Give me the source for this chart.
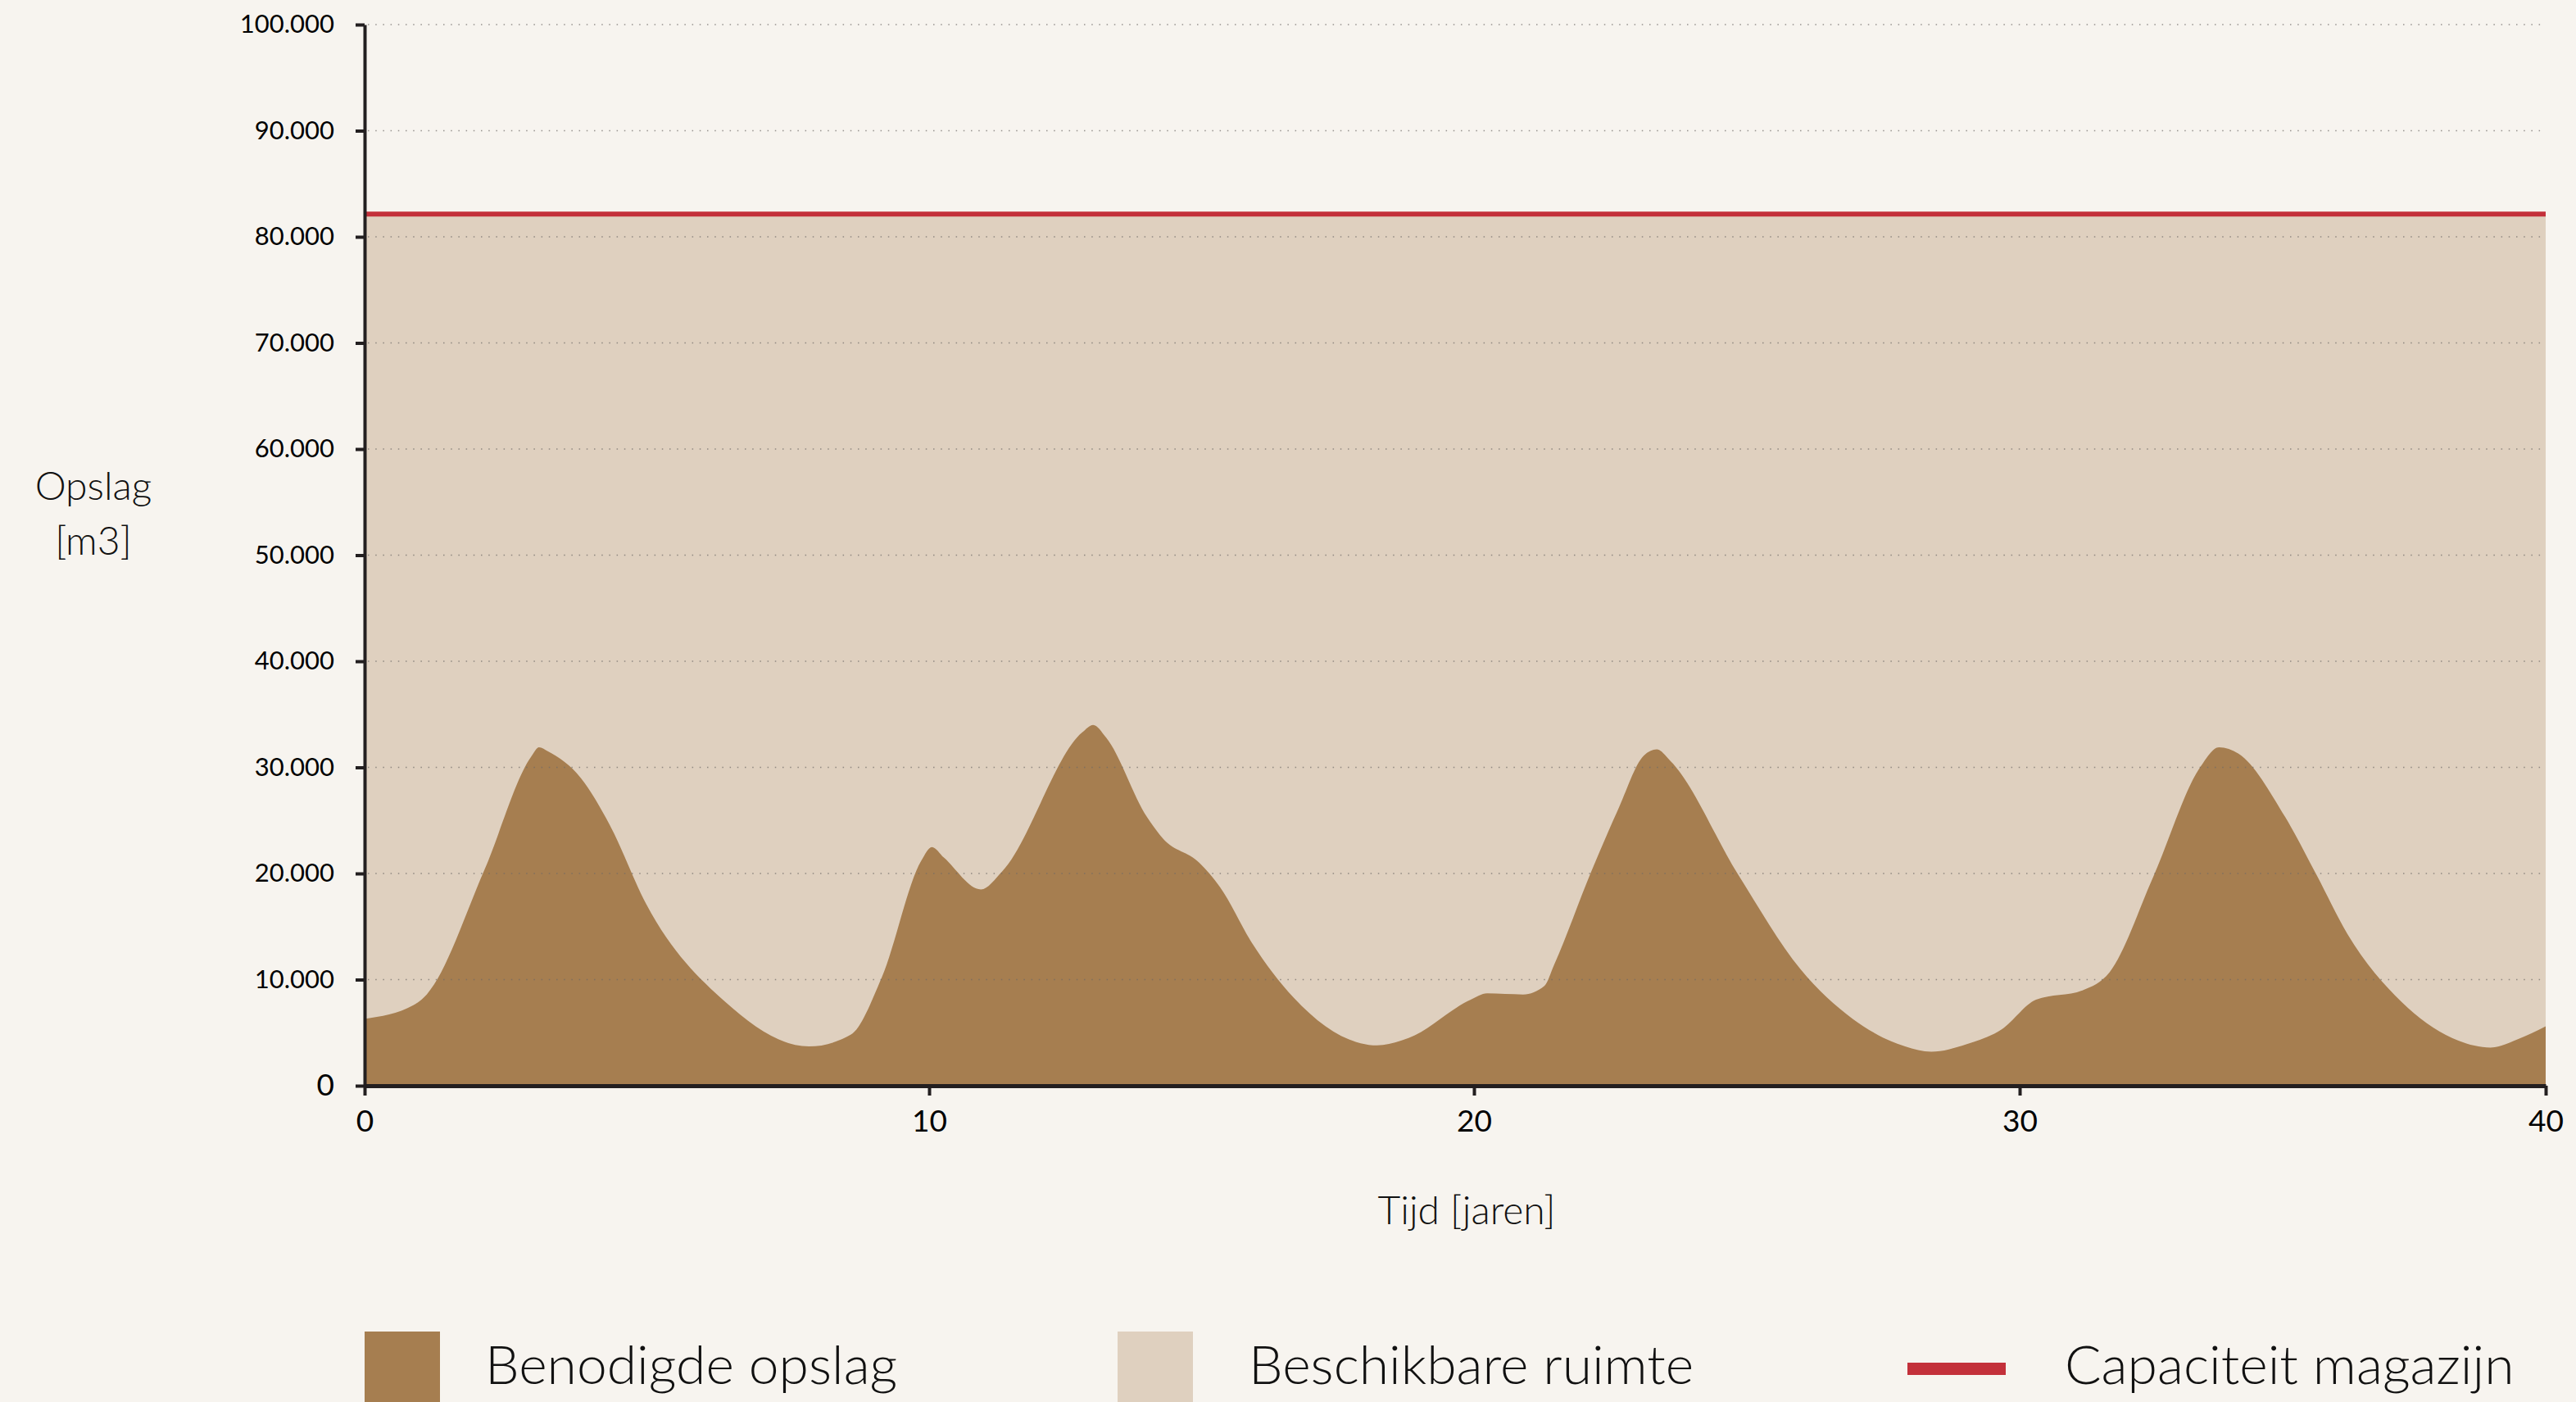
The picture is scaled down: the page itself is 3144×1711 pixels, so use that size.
<!DOCTYPE html>
<html>
<head>
<meta charset="utf-8">
<script src="https://cdn.jsdelivr.net/npm/d3@7"></script>
<style>
  html, body { margin: 0; padding: 0; background: #f7f4ef; }
  svg { display: block; font-family: "Lato", "Noto Sans", sans-serif; }
</style>
</head>
<body>
<script>
const w = 3144;
const h = 1711;

// time in years and required storage (m3)
const years = [0, 0.87, 1.1, 2.12, 2.95, 3.09, 3.25, 3.83, 4.34, 4.99, 6.39, 7.87, 8.61, 9.16, 9.86, 10.05, 10.27,
  10.95, 11.34, 12.81, 13.01, 13.25, 14.0, 14.29, 14.96, 15.34, 15.92, 16.69, 17.92, 18.22, 18.8, 19.94, 20.24,
  20.9, 21.29, 21.47, 22.15, 22.63, 23.11, 23.35, 23.6, 24.84, 25.98, 26.94, 27.9, 28.38, 29.02, 29.67, 30.31,
  31.2, 31.71, 32.54, 33.43, 33.79, 34.16, 35.05, 35.64, 36.23, 37.26, 38.22, 38.95, 39.48, 40];
const storage = [6300, 7600, 8600, 20300, 31000, 31900, 31500, 29000, 24600, 17100, 7900, 3700, 4800, 10200, 21200, 22500, 21500,
  18500, 20200, 33300, 34000, 32800, 25300, 23300, 21000, 18700, 13500, 8300, 4000, 3800, 4500, 8100, 8700,
  8600, 9400, 11400, 20200, 25900, 31100, 31700, 30600, 19900, 11000, 6300, 3700, 3200, 3900, 5300, 8100,
  9000, 10700, 19700, 30000, 31900, 31300, 25300, 19900, 14300, 7900, 4500, 3600, 4400, 5600];
const capacity = 82150;

const xTicks = [0, 10, 20, 30, 40];
const yTicks = [0, 10000, 20000, 30000, 40000, 50000, 60000, 70000, 80000, 90000, 100000];
const legendLabels = ["Benodigde opslag", "Beschikbare ruimte", "Capaciteit magazijn"];

const colBrown = "#a67e50";
const colLight = "#dfd0bf";
const colRed = "#c3303a";
const colAxis = "#231f20";

const nl = d3.formatLocale({ decimal: ",", thousands: ".", grouping: [3], currency: ["€", ""] });

const svg = d3
  .select("body")
  .append("svg")
  .attr("width", w)
  .attr("height", h);

// the original x axis is slightly uneven, so the scale is piecewise
const xScale = d3
  .scaleLinear()
  .domain(xTicks)
  .range([445, 1134, 1799, 2465, 3107]);
const yScale = d3
  .scaleLinear()
  .domain([0, 100000])
  .range([1325, 30]);

// available space up to the capacity
svg
  .append("path")
  .datum([0, 40])
  .attr("fill", colLight)
  .attr("d", d3.area().x(d => xScale(d)).y0(yScale(0)).y1(yScale(capacity)));

// required storage
const pts = years.map((t, i) => [t, storage[i]]);
svg
  .append("path")
  .datum(pts)
  .attr("fill", colBrown)
  .attr(
    "d",
    d3
      .area()
      .curve(d3.curveMonotoneX)
      .x(d => xScale(d[0]))
      .y0(yScale(0))
      .y1(d => yScale(d[1]))
  );

// dotted grid
svg
  .append("g")
  .selectAll("line")
  .data(yTicks.filter(d => d > 0))
  .enter()
  .append("line")
  .attr("x1", xScale(0) + 4)
  .attr("x2", xScale(40))
  .attr("y1", d => yScale(d))
  .attr("y2", d => yScale(d))
  .attr("stroke", "#6e6a66")
  .attr("stroke-opacity", 0.7)
  .attr("stroke-width", 1.5)
  .attr("stroke-dasharray", "1.5,7.7");

// capacity line
svg
  .append("line")
  .attr("x1", xScale(0))
  .attr("x2", xScale(40))
  .attr("y1", yScale(capacity))
  .attr("y2", yScale(capacity))
  .attr("stroke", colRed)
  .attr("stroke-width", 6);

const yAxis = d3
  .axisLeft(yScale)
  .tickValues(yTicks)
  .tickFormat(nl.format(",d"))
  .tickSize(11)
  .tickPadding(26)
  .tickSizeOuter(0);

const xAxis = d3
  .axisBottom(xScale)
  .tickValues(xTicks)
  .tickFormat(d3.format("d"))
  .tickSize(12)
  .tickPadding(18)
  .tickSizeOuter(0);

const gy = svg
  .append("g")
  .attr("transform", "translate(" + xScale(0) + ",0)")
  .call(yAxis)
  .attr("font-family", "Lato, 'Noto Sans', sans-serif");
gy.select(".domain").attr("stroke", colAxis).attr("stroke-width", 4);
gy.selectAll(".tick line").attr("stroke", colAxis).attr("stroke-width", 4);
gy.selectAll(".tick text")
  .attr("fill", "#000")
  .style("font-size", d => (d === 0 ? "37px" : "31px"));

const gx = svg
  .append("g")
  .attr("transform", "translate(0," + yScale(0) + ")")
  .call(xAxis)
  .attr("font-family", "Lato, 'Noto Sans', sans-serif");
gx.select(".domain").attr("stroke", colAxis).attr("stroke-width", 5);
gx.selectAll(".tick line").attr("stroke", colAxis).attr("stroke-width", 4);
gx.selectAll(".tick text").attr("fill", "#000").style("font-size", "37px");

// axis titles
const titles = [
  { x: 114, y: 610, t: "Opslag" },
  { x: 114, y: 677, t: "[m3]" },
  { x: 1790, y: 1494, t: "Tijd [jaren]" }
];
svg
  .append("g")
  .selectAll("text")
  .data(titles)
  .enter()
  .append("text")
  .attr("x", d => d.x)
  .attr("y", d => d.y)
  .attr("text-anchor", "middle")
  .style("font-size", "48px")
  .style("font-weight", 300)
  .attr("fill", "#111")
  .text(d => d.t);

// legend
const legend = svg.append("g");
legend.append("rect").attr("x", 445).attr("y", 1625).attr("width", 92).attr("height", 100).attr("fill", colBrown);
legend.append("rect").attr("x", 1364).attr("y", 1625).attr("width", 92).attr("height", 100).attr("fill", colLight);
legend.append("rect").attr("x", 2328).attr("y", 1663).attr("width", 120).attr("height", 15).attr("fill", colRed);

legend
  .selectAll("text")
  .data(legendLabels)
  .enter()
  .append("text")
  .attr("x", (d, i) => [592, 1524, 2520][i])
  .attr("y", 1689)
  .style("font-size", "66px")
  .style("font-weight", 300)
  .attr("fill", "#111")
  .text(d => d);
</script>
</body>
</html>
